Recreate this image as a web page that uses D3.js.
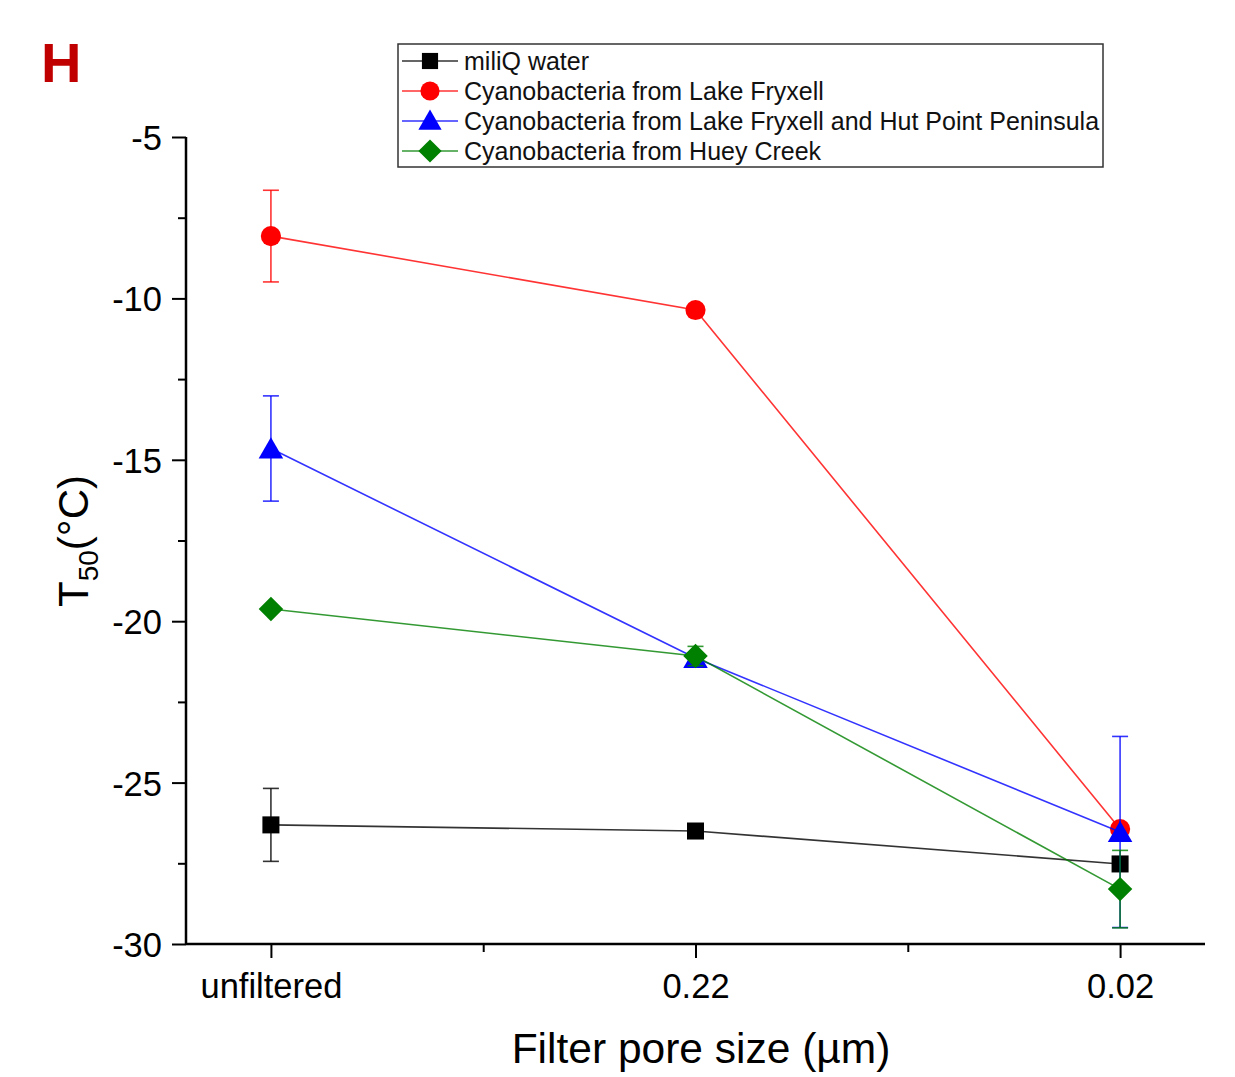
<!DOCTYPE html>
<html><head><meta charset="utf-8">
<script src="https://cdn.jsdelivr.net/npm/d3@7"></script>
<style>body{margin:0;background:#fff}svg{display:block}text{font-family:"Liberation Sans",Arial,sans-serif}</style>
</head><body>
<script>
const categories = ["unfiltered", "0.22", "0.02"];
const seriesNames = ["miliQ water", "Cyanobacteria from Lake Fryxell", "Cyanobacteria from Lake Fryxell and Hut Point Peninsula", "Cyanobacteria from Huey Creek"];
const seriesColors = ["#000000", "#ff0000", "#0000ff", "#008000"];
const seriesSymbols = ["square", "circle", "triangle", "diamond"];
const miliQ = [-26.31, -26.5, -27.52];
const miliQErr = [1.13, 0, 0];
const fryxell = [-8.07, -10.36, -26.44];
const fryxellErr = [1.42, 0, 0];
const fryxellHut = [-14.65, -21.14, -26.53];
const fryxellHutErr = [1.63, 0, 2.96];
const hueyCreek = [-19.62, -21.08, -28.3];
const hueyCreekErr = [0, 0.3, 1.2];
const yTicks = [-5, -10, -15, -20, -25, -30];
const yMinorTicks = [-7.5, -12.5, -17.5, -22.5, -27.5];

const W = 1235, H = 1077;
const svg = d3.select("body").append("svg").attr("width", W).attr("height", H);

const x = d3.scaleLinear().domain([-0.2, 2.2]).range([186, 1205]);
const y = d3.scaleLinear().domain([-30, -5]).range([944, 137]);

// panel label
svg.append("text").attr("x", 41).attr("y", 82).attr("fill", "#c00000")
  .attr("font-size", 56).attr("font-weight", "bold").text("H");

// axes
const yAxis = d3.axisLeft(y).tickValues(yTicks).tickSize(14).tickPadding(10).tickFormat(d3.format("d"));
const gy = svg.append("g").attr("transform", "translate(186,0)").call(yAxis);
gy.select(".domain").attr("stroke-width", 2.5).attr("d", `M0,${y(-5)}V${y(-30)}`);
gy.selectAll(".tick line").attr("stroke-width", 2);
gy.selectAll(".tick text").attr("font-size", 34.5).attr("dy", "0.36em").text(d => d.toString().replace("-", "-"));
svg.append("g").attr("transform", "translate(186,0)")
  .call(d3.axisLeft(y).tickValues(yMinorTicks).tickSize(8).tickFormat(""))
  .call(g => g.select(".domain").remove())
  .selectAll("line").attr("stroke-width", 2);

const xAxis = d3.axisBottom(x).tickValues([0, 1, 2]).tickSize(14).tickPadding(16).tickFormat(i => categories[i]);
const gx = svg.append("g").attr("transform", "translate(0,944)").call(xAxis);
gx.select(".domain").attr("stroke-width", 2.5).attr("d", `M186,0H1205`);
gx.selectAll(".tick line").attr("stroke-width", 2);
gx.selectAll(".tick text").attr("font-size", 34.5);
svg.append("g").attr("transform", "translate(0,944)")
  .call(d3.axisBottom(x).tickValues([0.5, 1.5]).tickSize(8).tickFormat(""))
  .call(g => g.select(".domain").remove())
  .selectAll("line").attr("stroke-width", 2);

// axis titles
svg.append("text").attr("x", 701).attr("y", 1063).attr("text-anchor", "middle")
  .attr("font-size", 42.5).text("Filter pore size (µm)");
const yt = svg.append("text").attr("transform", "translate(88,541) rotate(-90)")
  .attr("text-anchor", "middle").attr("font-size", 42);
yt.append("tspan").text("T");
yt.append("tspan").attr("font-size", 28).attr("dy", 10).text("50");
yt.append("tspan").attr("dy", -10).text("(°C)");

const symMap = {square: d3.symbolSquare, circle: d3.symbolCircle, triangle: d3.symbolTriangle, diamond: d3.symbolSquare};
const symSize = {square: 290, circle: 320, triangle: 260, diamond: 300};
const symXf = s => s === "diamond" ? " rotate(45)" : "";
const series = [
  {vals: miliQ, err: miliQErr},
  {vals: fryxell, err: fryxellErr},
  {vals: fryxellHut, err: fryxellHutErr},
  {vals: hueyCreek, err: hueyCreekErr}
];

const line = d3.line().x((d, i) => x(i)).y(d => y(d));
series.forEach((s, k) => {
  const c = seriesColors[k];
  const g = svg.append("g");
  g.append("path").attr("d", line(s.vals)).attr("fill", "none").attr("stroke", c).attr("stroke-width", 1.6).attr("stroke-opacity", 0.8);
  s.vals.forEach((v, i) => {
    const e = s.err[i];
    if (e > 0) {
      const eg = g.append("g").attr("stroke", c).attr("stroke-width", 1.6).attr("stroke-opacity", 0.8);
      eg.append("line").attr("x1", x(i)).attr("x2", x(i)).attr("y1", y(v + e)).attr("y2", y(v - e));
      [v + e, v - e].forEach(b => eg.append("line").attr("x1", x(i) - 8).attr("x2", x(i) + 8).attr("y1", y(b)).attr("y2", y(b)));
    }
  });
  s.vals.forEach((v, i) => {
    const sym = seriesSymbols[k];
    const dy = sym === "triangle" ? 3 : 0;
    g.append("path").attr("d", d3.symbol(symMap[sym], symSize[sym])())
      .attr("transform", `translate(${x(i)},${y(v) + dy})` + symXf(sym))
      .attr("fill", c);
  });
});

// legend
const lg = svg.append("g");
lg.append("rect").attr("x", 398).attr("y", 44).attr("width", 705).attr("height", 123)
  .attr("fill", "#fff").attr("stroke", "#333").attr("stroke-width", 1.5);
seriesNames.forEach((n, k) => {
  const yy = 61 + k * 30;
  const c = seriesColors[k];
  lg.append("line").attr("x1", 402).attr("x2", 458).attr("y1", yy).attr("y2", yy).attr("stroke", c).attr("stroke-width", 1.6).attr("stroke-opacity", 0.8);
  const sym = seriesSymbols[k];
  lg.append("path").attr("d", d3.symbol(symMap[sym], symSize[sym] * 0.9)())
    .attr("transform", `translate(430,${yy + (sym === "triangle" ? 2 : 0)})` + symXf(sym))
    .attr("fill", c);
  lg.append("text").attr("x", 464).attr("y", yy + 8.5).attr("font-size", 25).attr("fill", "#111").text(n);
});
</script>
</body></html>
